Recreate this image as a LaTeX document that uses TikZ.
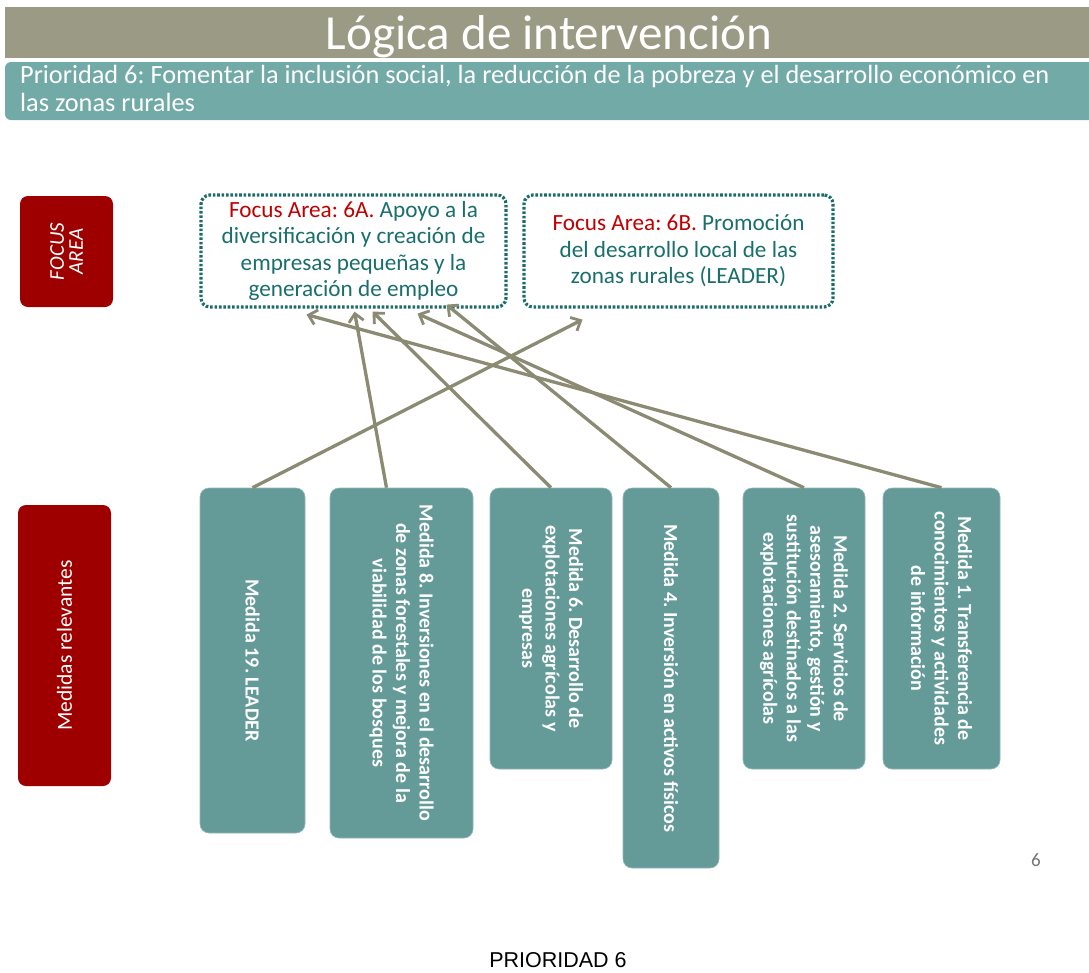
\documentclass[tikz,border=0pt]{standalone}
\usepackage{fontspec}
\setmainfont{Carlito}
\newfontfamily\arialfont{Liberation Sans}
\usepackage{xcolor}
\usepackage{tikz}
\usetikzlibrary{arrows.meta,calc}
\definecolor{barolive}{HTML}{9B9B85}
\definecolor{barteal}{HTML}{72AAA8}
\definecolor{darkred}{HTML}{9E0000}
\definecolor{labelred}{HTML}{C00000}
\definecolor{boxteal}{HTML}{649B99}
\definecolor{dotteal}{HTML}{1E6B6B}
\definecolor{textteal}{HTML}{1A6F6D}
\definecolor{arrowgray}{HTML}{8B8B73}
\frenchspacing

\begin{document}
\begin{tikzpicture}[x=1pt,y=-1pt,
    redbox/.style={fill=darkred,rounded corners=8pt,rotate=90,inner sep=0pt,
      text=white,align=center},
    medbox/.style={fill=boxteal,draw=boxteal!70!white,line width=0.6pt,
      rounded corners=9pt,rotate=-90,inner sep=0pt,text=white,align=center,
      font=\bfseries\fontsize{20}{23.5}\selectfont},
    fabox/.style={draw=dotteal,line width=3.2pt,dash pattern=on 2.6pt off 1.8pt,
      rounded corners=9pt,inner sep=0pt,minimum width=305pt,minimum height=112pt,
      text=textteal,align=center,font=\fontsize{23.2}{26.5}\selectfont},
    link/.style={arrowgray,line width=3.3pt,
      -{Straight Barb[length=8pt,width=15pt,line width=2.8pt]}}]
    \fill[white] (0,0) rectangle (1089,972);
    \useasboundingbox (0,0) rectangle (1089,972);
    % cabecera
    \fill[barolive] (5,7) rectangle (1089,58);
    \node[text=white,font=\fontsize{49}{52}\selectfont] (titulo) at (549,37) {Lógica de intervención};
    \fill[barteal,rounded corners=6pt] (5,62) rectangle (1100,120);
    \node[anchor=north west,inner sep=0pt,text=white,align=left,
      font=\fontsize{26.3}{28.5}\selectfont] (prioridad) at (20,65)
      {Prioridad 6: Fomentar la inclusión social, la reducción de la pobreza y el desarrollo económico en\\las zonas rurales};
    % etiquetas laterales
    \node[redbox,minimum width=111pt,minimum height=93pt,
      font=\itshape\fontsize{21}{19}\selectfont] (lfa) at (66.5,251.5) {FOCUS\\AREA};
    \node[redbox,minimum width=281pt,minimum height=93pt,
      font=\fontsize{21.5}{22}\selectfont] (lmr) at (64.5,645.5) {Medidas relevantes};
    % focus areas
    \node[fabox] (fa) at (353.5,251)
      {\textcolor{labelred}{Focus Area: 6A.} Apoyo a la\\diversificación y creación de\\empresas pequeñas y la\\generación de empleo};
    \node[fabox,minimum width=309pt] (fb) at (678.5,251)
      {\textcolor{labelred}{Focus Area: 6B.} Promoción\\del desarrollo local de las\\zonas rurales (LEADER)};
    % medidas
    \node[medbox,minimum width=345pt,minimum height=105pt] (m19) at (252.5,660.5) {Medida 19. LEADER};
    \node[medbox,minimum width=350pt,minimum height=143pt] (m8) at (401.5,663)
      {Medida 8. Inversiones en el desarrollo\\de zonas forestales y mejora de la\\viabilidad de los bosques};
    \node[medbox,minimum width=281pt,minimum height=122pt] (m6) at (551,628.5)
      {Medida 6. Desarrollo de\\explotaciones agrícolas y\\empresas};
    \node[medbox,minimum width=380pt,minimum height=96pt] (m4) at (671,678)
      {Medida 4. Inversión en activos físicos};
    \node[medbox,minimum width=281pt,minimum height=122pt] (m2) at (804,628.5)
      {Medida 2. Servicios de\\asesoramiento, gestión y\\sustitución destinados a las\\explotaciones agrícolas};
    \node[medbox,minimum width=281pt,minimum height=117pt] (m1) at (941.5,628.5)
      {Medida 1. Transferencia de\\conocimientos y actividades\\de información};
    % conexiones
    \draw[link] (m19.west) -- ($(fb.south)+(-96,11)$);
    \draw[link] ($(m8.west)+(-15,0)$) -- ($(fa.south)+(1,3)$);
    \draw[link] (m6.west) -- ($(fa.south)+(19,3)$);
    \draw[link] (m4.west) -- ($(fa.south)+(93,-4)$);
    \draw[link] (m2.west) -- ($(fa.south)+(64,5)$);
    \draw[link] (m1.west) -- ($(fa.south)+(-47,6)$);
    % pie
    \node[text=black!55,font=\fontsize{19}{20}\selectfont] (pagina) at (1036,860) {6};
    \node[font=\arialfont\fontsize{21.5}{22}\selectfont] (pie) at (558,960) {PRIORIDAD 6};
\end{tikzpicture}
\end{document}
